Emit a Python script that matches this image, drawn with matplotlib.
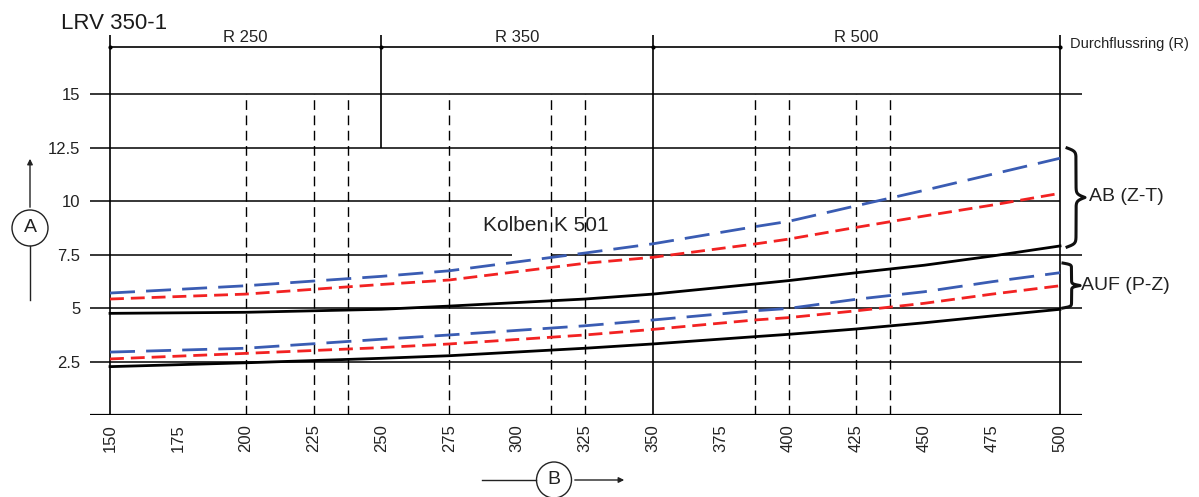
import numpy as np
import matplotlib
matplotlib.use("Agg")
from matplotlib import pyplot as plt
from matplotlib.patches import Ellipse, FancyArrowPatch
from matplotlib.lines import Line2D

plt.rcParams['font.family'] = ['Liberation Sans', 'DejaVu Sans']

# flow values
x = [150, 200, 250, 275, 325, 350, 387.5, 400, 425, 450, 475, 500]
ab_blue = [5.70, 6.04, 6.48, 6.74, 7.57, 8.00, 8.80, 9.05, 9.78, 10.50, 11.25, 12.00]
ab_red = [5.42, 5.65, 6.10, 6.31, 7.09, 7.37, 7.99, 8.22, 8.77, 9.30, 9.81, 10.36]
ab_black = [4.75, 4.80, 4.94, 5.09, 5.42, 5.65, 6.12, 6.28, 6.65, 7.00, 7.43, 7.90]
auf_blue = [2.94, 3.12, 3.54, 3.74, 4.17, 4.44, 4.87, 4.98, 5.41, 5.76, 6.23, 6.65]
auf_red = [2.62, 2.88, 3.15, 3.32, 3.74, 4.00, 4.44, 4.55, 4.87, 5.22, 5.65, 6.04]
auf_black = [2.26, 2.44, 2.65, 2.77, 3.12, 3.32, 3.66, 3.77, 4.02, 4.31, 4.63, 4.94]

xticks = [150, 175, 200, 225, 250, 275, 300, 325, 350, 375, 400, 425, 450, 475, 500]
yticks = [2.5, 5, 7.5, 10, 12.5, 15]
ytick_labels = ["2.5", "5", "7.5", "10", "12.5", "15"]
dashed_x = [200, 225, 237.5, 275, 312.5, 325, 387.5, 400, 425, 437.5]
ring_bounds = [150, 250, 350, 500]
ring_labels = ["R 250", "R 350", "R 500"]

W, H = 1199, 497
fig = plt.figure(figsize=(W / 100, H / 100), dpi=100)
ax = fig.add_axes([90 / W, 1 - 415 / H, (1082 - 90) / W, (415 - 20) / H])
ax.set_xlim(142.63, 508.1)
ax.set_ylim(0, 18.46)
for s in ax.spines.values():
    s.set_visible(False)

# grid lines
lw = 1.1
ax.axhline(0, color="black", lw=1.6)
ax.axhline(15, color="black", lw=lw)
ax.hlines([12.5, 10], 142.63, 500, color="black", lw=lw)
ax.hlines(2.5, 142.63, 508.1, color="black", lw=lw)
ax.hlines(5, 142.63, 508.1, color="black", lw=lw)
ax.hlines([7.5, 7.5], [142.63, 313], [298, 508.1], color="black", lw=lw)
ax.vlines([150, 350, 500], 0, 17.76, color="black", lw=1.2)
ax.vlines(250, 12.5, 17.76, color="black", lw=1.2)
ax.vlines(dashed_x, 0, 15, color="black", lw=1.0, linestyles=[(0, (7, 4))])

# Durchflussring dimension line
ax.plot([150, 500], [17.2, 17.2], color="black", lw=1.2, clip_on=False)
ax.plot(ring_bounds, [17.2] * 4, ls="none", marker="o", ms=2, color="black", clip_on=False)
for i, lab in enumerate(ring_labels):
    ax.text((ring_bounds[i] + ring_bounds[i + 1]) / 2, 17.42, lab, ha="center",
            va="baseline", fontsize=12, color="#222222")
ax.text(503.7, 17.15, "Durchflussring (R)", fontsize=10.5, va="baseline", ha="left",
        color="#222222", clip_on=False)

# curves
blue = "#3a5cb3"
red = "#f22222"
ax.plot(x, ab_blue, color=blue, lw=2, dashes=(9, 4))
ax.plot(x, ab_red, color=red, lw=2, dashes=(5, 2.5))
ax.plot(x, ab_black, color="black", lw=2)
ax.plot(x, auf_blue, color=blue, lw=2, dashes=(9, 4))
ax.plot(x, auf_red, color=red, lw=2, dashes=(5, 2.5))
ax.plot(x, auf_black, color="black", lw=2)

ax.text(287.4, 8.6, "Kolben K 501", fontsize=15, va="baseline", color="#222222")

# ticks
ax.set_xticks(xticks)
ax.set_xticklabels([str(v) for v in xticks], rotation=90, fontsize=12, color="#222222")
ax.set_yticks(yticks)
ax.set_yticklabels(ytick_labels, fontsize=12, color="#222222")
ax.tick_params(length=0)
ax.tick_params(axis="y", pad=7)
ax.tick_params(axis="x", pad=6.5)


def brace(x0, y0, y1, w):
    h = y1 - y0
    s = np.linspace(0, h / 2, 200)
    beta = 60.0 / h
    p = 1 / (1 + np.exp(-beta * s)) + 1 / (1 + np.exp(-beta * (s - h / 2)))
    xx = x0 + (p - 0.5) * w
    xs = np.concatenate([xx, xx[::-1]])
    ys = np.concatenate([y0 + s, y1 - s[::-1]])
    ax.plot(xs, ys, color="#111111", lw=2.2, clip_on=False)


brace(502.6, 7.85, 12.48, 6.6)
brace(501.1, 5.0, 7.1, 6.3)
ax.text(510.7, 10.19, "AB (Z-T)", fontsize=14, va="center", ha="left",
        color="#222222", clip_on=False)
ax.text(507.7, 6.07, "AUF (P-Z)", fontsize=14, va="center", ha="left",
        color="#222222", clip_on=False)

fig.text(61 / W, 1 - 29 / H, "LRV 350-1", fontsize=16, va="baseline", ha="left",
         color="#1a1a1a")


def fx(px):
    return px / W


def fy(py):
    return 1 - py / H


# axis symbol A
fig.add_artist(Ellipse((fx(30), fy(228)), 36 / W, 36 / H, transform=fig.transFigure,
                       fill=False, lw=1, color="#222222"))
fig.text(fx(30), fy(228), "A", fontsize=14, ha="center", va="center", color="#222222")
fig.add_artist(Line2D([fx(30), fx(30)], [fy(300), fy(246)], transform=fig.transFigure,
                      lw=1, color="#222222"))
fig.add_artist(FancyArrowPatch((fx(30), fy(210)), (fx(30), fy(156)), transform=fig.transFigure,
                               arrowstyle="-|>", mutation_scale=8, lw=1, color="#222222"))

# axis symbol B
fig.add_artist(Ellipse((fx(554), fy(480)), 35 / W, 36 / H, transform=fig.transFigure,
                       fill=False, lw=1, color="#222222"))
fig.text(fx(554), fy(480), "B", fontsize=14, ha="center", va="center", color="#222222")
fig.add_artist(Line2D([fx(482), fx(536)], [fy(480), fy(480)], transform=fig.transFigure,
                      lw=1, color="#222222"))
fig.add_artist(FancyArrowPatch((fx(572), fy(480)), (fx(627), fy(480)), transform=fig.transFigure,
                               arrowstyle="-|>", mutation_scale=8, lw=1, color="#222222"))

fig.savefig("out.png", dpi=100)
